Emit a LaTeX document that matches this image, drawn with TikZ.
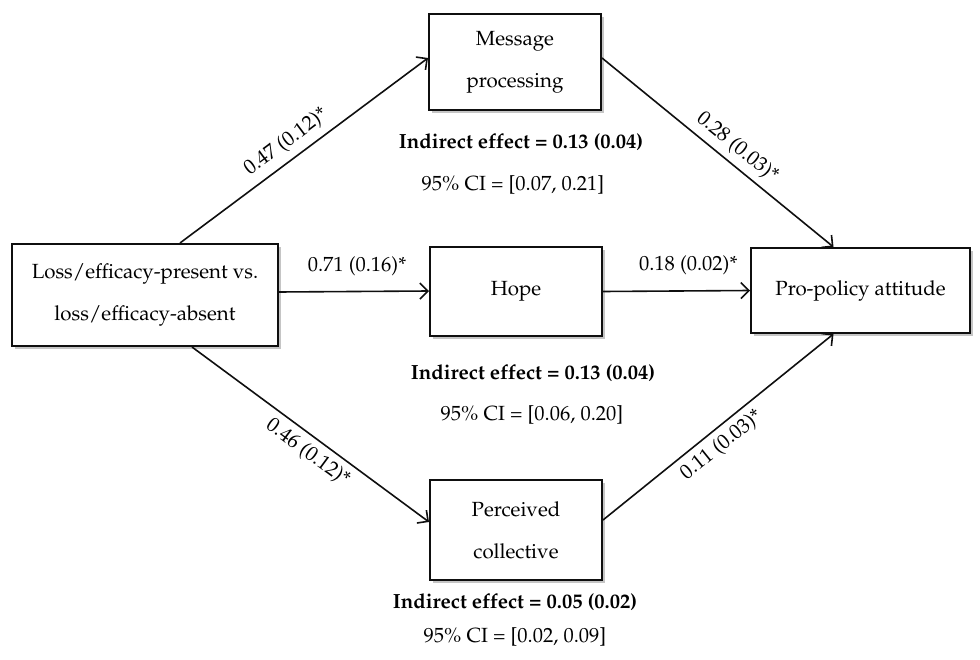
\documentclass[tikz,border=0pt]{standalone}
\usepackage[T1]{fontenc}
\usepackage{mathpazo}
\usepackage{tikz}
\usetikzlibrary{arrows.meta,positioning,shadows}
\definecolor{pathblack}{RGB}{15,15,15}
\definecolor{shadowgray}{RGB}{110,110,110}
\tikzset{
  varbox/.style={draw=pathblack, line width=2pt, fill=white, align=center, inner sep=0pt,
    minimum width=172pt, font=\fontsize{20.5}{42}\selectfont,
    drop shadow={shadow xshift=2.5pt, shadow yshift=-3pt, opacity=0.4, fill=shadowgray}},
  effarrow/.style={draw=pathblack, line width=1.6pt, -{Straight Barb[length=8pt,width=16pt,line width=1.6pt]}},
  coef/.style={font=\fontsize{20.5}{24}\selectfont, inner sep=3pt},
  effnote/.style={font=\fontsize{20.5}{24}\selectfont\bfseries},
  cinote/.style={font=\fontsize{20.5}{24}\selectfont}
}

\begin{document}
\begin{tikzpicture}[x=1pt,y=-1pt]
\useasboundingbox (0,0) rectangle (980,660);
% predictor and outcome
\node[varbox, minimum width=266pt, minimum height=102pt] (loss) at (145,295) {Loss/efficacy-present vs.\\loss/efficacy-absent};
\node[varbox, minimum width=219pt, minimum height=85pt] (pro) at (860.5,290.5) {Pro-policy attitude};
% mediators
\node[varbox, minimum height=96pt] (msg) at (515,62) {Message\\processing};
\node[varbox, minimum height=89pt] (hope) at (516,291.5) {Hope};
\node[varbox, minimum height=100pt] (perc) at (516,530) {Perceived\\collective};
% paths
\draw[effarrow] ([xshift=35pt]loss.north) -- node[coef, sloped, above=4pt, pos=0.47] {0.47 (0.12)*} ([yshift=4pt]msg.west);
\draw[effarrow] ([yshift=4pt]msg.east) -- node[coef, sloped, above=3pt, pos=0.54] {0.28 (0.03)*} ([xshift=-27pt]pro.north);
\draw[effarrow] ([yshift=3pt]loss.east) -- node[coef, above=12pt, pos=0.52] {0.71 (0.16)*} ([yshift=0.5pt]hope.west);
\draw[effarrow] (hope.east) -- node[coef, above=12pt, pos=0.58] {0.18 (0.02)*} (pro.west);
\draw[effarrow] ([xshift=47pt]loss.south) -- node[coef, sloped, below=3pt, pos=0.53] {0.46 (0.12)*} ([yshift=8pt]perc.west);
\draw[effarrow] ([yshift=10pt]perc.east) -- node[coef, sloped, below=3pt, pos=0.47] {0.11 (0.03)*} ([xshift=-27pt]pro.south);
% indirect effects
\node[effnote] (ie1) at (521,142) {Indirect effect = 0.13 (0.04)};
\node[cinote] (ci1) at (513,185) {95\% CI = [0.07, 0.21]};
\node[effnote] (ie2) at (533,373) {Indirect effect = 0.13 (0.04)};
\node[cinote] (ci2) at (532,415) {95\% CI = [0.06, 0.20]};
\node[effnote] (ie3) at (515,602) {Indirect effect = 0.05 (0.02)};
\node[cinote] (ci3) at (515,637) {95\% CI = [0.02, 0.09]};
\end{tikzpicture}
\end{document}
